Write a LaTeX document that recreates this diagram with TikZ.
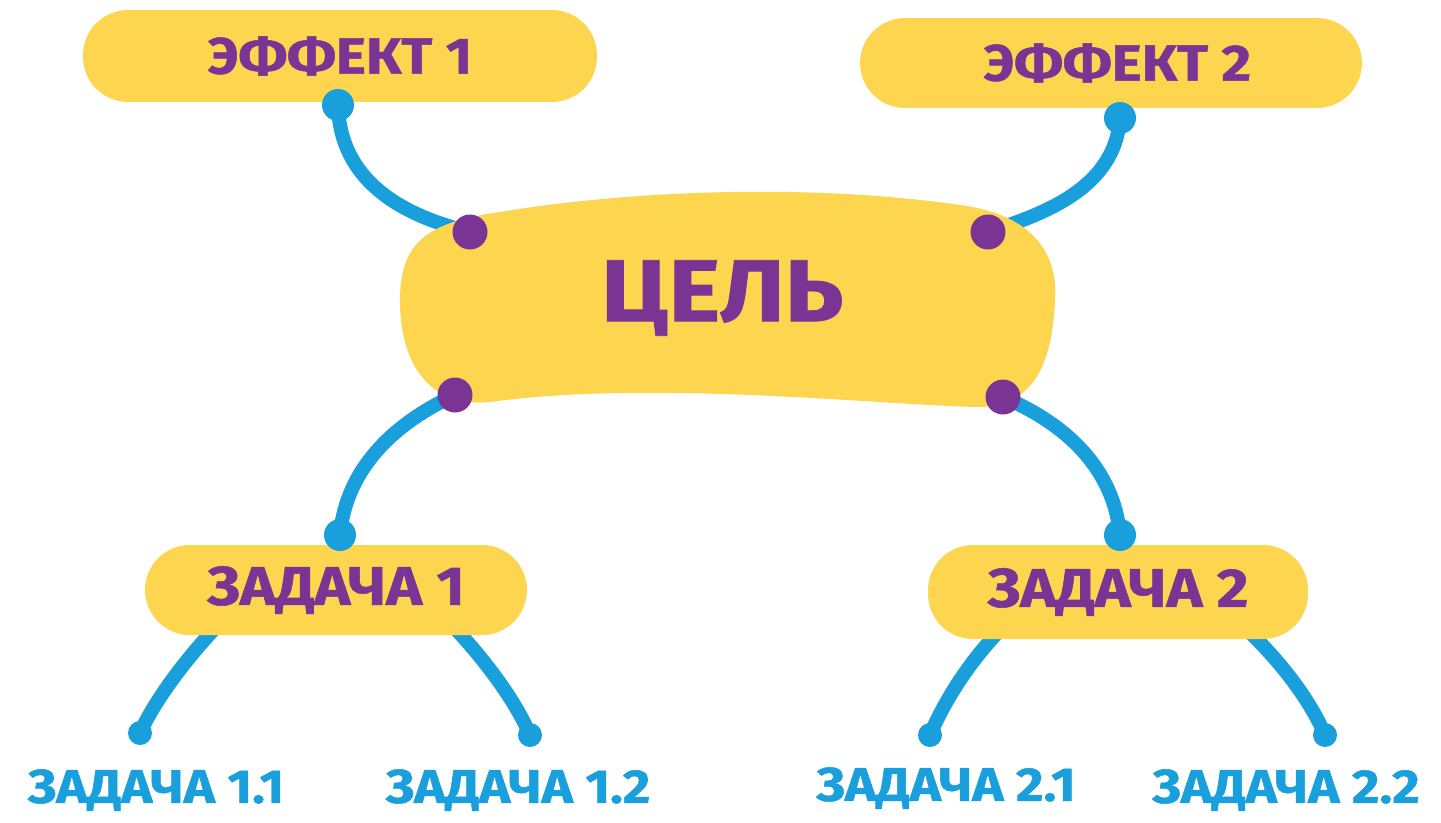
\documentclass[tikz,border=0pt]{standalone}
\usepackage{fontspec}
\setmainfont{Fira Sans}[BoldFeatures={FakeStretch=1.12,FakeBold=1}]
\usepackage{tikz}

\definecolor{blobyellow}{HTML}{FDD54F}
\definecolor{txtpurple}{HTML}{7A3594}
\definecolor{linkblue}{HTML}{189FDC}

\tikzset{
  blob/.style={fill=blobyellow,rounded corners=0.9cm,inner sep=0pt,
    font=\bfseries\fontsize{29}{31}\selectfont,text=txtpurple},
  link/.style={draw=linkblue,line width=8pt,line cap=round},
  sublabel/.style={font=\bfseries\fontsize{27}{29}\selectfont,text=linkblue},
}

\begin{document}
\begin{tikzpicture}[x=0.02cm,y=-0.02cm]
\useasboundingbox (0,0) rectangle (1441,822);

% points on the links
\coordinate (de1) at (338,105);  \coordinate (de2) at (1120,118);
\coordinate (pa) at (470,232);   \coordinate (pb) at (988,232);
\coordinate (pc) at (455,395);   \coordinate (pd) at (1003,397);
\coordinate (dt1) at (340,535);  \coordinate (dt2) at (1120,535);
\coordinate (s11) at (218,625);  \coordinate (s12) at (452,625);
\coordinate (s21) at (1005,625); \coordinate (s22) at (1242,625);
\coordinate (d11) at (140,733);  \coordinate (d12) at (530,735);
\coordinate (d21) at (930,735);  \coordinate (d22) at (1325,735);

% links
\draw[link] (de1) .. controls (340,180) and (400,215) .. (pa);
\draw[link] (de2) .. controls (1115,190) and (1040,215) .. (pb);
\draw[link] (pc) .. controls (380,430) and (345,480) .. (dt1);
\draw[link] (pd) .. controls (1080,430) and (1115,480) .. (dt2);
\draw[link] (s11) .. controls (185,660) and (155,700) .. (d11);
\draw[link] (s12) .. controls (485,660) and (515,700) .. (d12);
\draw[link] (s21) .. controls (970,660) and (945,700) .. (d21);
\draw[link] (s22) .. controls (1280,660) and (1310,700) .. (d22);

% central bean
\fill[blobyellow] (400,300) .. controls (400,240) and (430,222) .. (500,212)
  .. controls (620,192) and (800,182) .. (960,205)
  .. controls (1035,215) and (1058,255) .. (1055,300)
  .. controls (1052,370) and (1030,408) .. (975,407)
  .. controls (870,404) and (650,380) .. (490,402)
  .. controls (430,408) and (400,365) .. (400,300) -- cycle;
\node[font=\bfseries\fontsize{50}{52}\selectfont,text=txtpurple] (goal) at (722,298) {ЦЕЛЬ};

\node[blob,minimum width=10.28cm,minimum height=1.84cm] (e1) at (340,56) {ЭФФЕКТ 1};
\node[blob,minimum width=10.04cm,minimum height=1.8cm] (e2) at (1111,63) {\hspace{0.25cm}ЭФФЕКТ 2};
\node[blob,minimum width=7.64cm,minimum height=1.8cm,font=\bfseries\fontsize{31}{33}\selectfont] (t1) at (336,590) {ЗАДАЧА 1};
\node[blob,minimum width=7.6cm,minimum height=1.88cm,font=\bfseries\fontsize{31}{33}\selectfont] (t2) at (1118,592) {ЗАДАЧА 2};

% dots
\foreach \p in {pa,pb,pc,pd} \fill[txtpurple] (\p) circle (0.35cm);
\foreach \p in {de1,de2,dt1,dt2} \fill[linkblue] (\p) circle (0.32cm);
\foreach \p in {d11,d12,d21,d22} \fill[linkblue] (\p) circle (0.24cm);

\node[sublabel] (l11) at (156,790) {ЗАДАЧА 1.1};
\node[sublabel] (l12) at (518,790) {ЗАДАЧА 1.2};
\node[sublabel] (l21) at (946,788) {ЗАДАЧА 2.1};
\node[sublabel] (l22) at (1286,790) {ЗАДАЧА 2.2};
\end{tikzpicture}
\end{document}
